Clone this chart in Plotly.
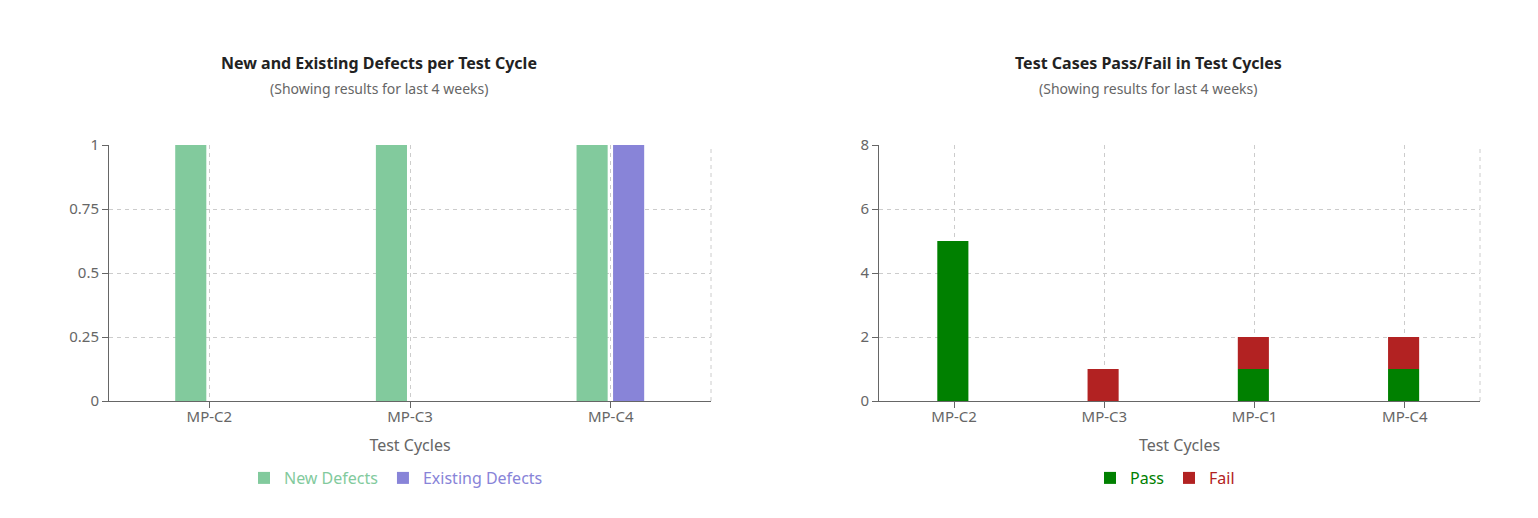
import plotly.graph_objects as go

# Data
defect_cycles = ["MP-C2", "MP-C3", "MP-C4"]
new_defects = [1, 1, 1]
existing_defects = [0, 0, 1]
defect_ticks = [0, 0.25, 0.5, 0.75, 1]
defect_tick_labels = ["0", "0.25", "0.5", "0.75", "1"]

test_cycles = ["MP-C2", "MP-C3", "MP-C1", "MP-C4"]
pass_counts = [5, 0, 1, 1]
fail_counts = [0, 1, 1, 1]
test_ticks = [0, 2, 4, 6, 8]

W, H = 1538, 518
FONT = "Noto Sans"
AX = "#666666"
GRID = "#cccccc"

def px(x):
    return x / W

def py(y):
    return (H - y) / H

fig = go.Figure()

fig.add_trace(go.Bar(x=defect_cycles, y=new_defects, name="<span style='color:#82ca9d'>New Defects</span>",
                     marker=dict(color="#82ca9d", line=dict(width=0)), width=0.155, offset=-0.17,
                     xaxis="x", yaxis="y", legend="legend"))
fig.add_trace(go.Bar(x=defect_cycles, y=existing_defects, name="<span style='color:#8884d8'>Existing Defects</span>",
                     marker=dict(color="#8884d8", line=dict(width=0)), width=0.155, offset=0.012,
                     xaxis="x", yaxis="y", legend="legend"))

fig.add_trace(go.Bar(x=test_cycles, y=pass_counts, name="<span style='color:#008000'>Pass</span>",
                     marker=dict(color="#008000", line=dict(width=0)), width=0.207, offset=-0.112,
                     xaxis="x2", yaxis="y2", legend="legend2"))
fig.add_trace(go.Bar(x=test_cycles, y=fail_counts, base=pass_counts, name="<span style='color:#b22222'>Fail</span>",
                     marker=dict(color="#b22222", line=dict(width=0)), width=0.207, offset=-0.112,
                     xaxis="x2", yaxis="y2", legend="legend2"))

ydom = [py(401), py(145)]
axis_common = dict(showline=True, linecolor=AX, linewidth=1, ticks="outside", ticklen=6, tickcolor=AX,
                   tickfont=dict(size=15, color=AX, family=FONT), showgrid=True, gridcolor=GRID,
                   griddash="4px,4px", gridwidth=1, zeroline=False, automargin=False)

fig.update_layout(
    width=W, height=H, margin=dict(l=0, r=0, t=0, b=0, autoexpand=False),
    paper_bgcolor="white", plot_bgcolor="white",
    barmode="overlay",
    font=dict(family=FONT, color=AX),
    xaxis=dict(domain=[px(109), px(711)], type="category", range=[-0.5, 2.5], ticklabelstandoff=-4,
               title=dict(text="Test Cycles", font=dict(size=16, color=AX), standoff=14), anchor="y",
               **axis_common),
    yaxis=dict(domain=ydom, range=[0, 1], tickvals=defect_ticks, ticktext=defect_tick_labels, anchor="x",
               **axis_common),
    xaxis2=dict(domain=[px(879), px(1480)], type="category", range=[-0.5, 3.5], ticklabelstandoff=-4,
                title=dict(text="Test Cycles", font=dict(size=16, color=AX), standoff=14), anchor="y2",
                **axis_common),
    yaxis2=dict(domain=ydom, range=[0, 8], tickvals=test_ticks, anchor="x2", **axis_common),
    legend=dict(orientation="h", x=px(396), y=py(478), xanchor="center", yanchor="middle",
                font=dict(size=16, family=FONT), itemclick=False, bgcolor="rgba(0,0,0,0)"),
    legend2=dict(orientation="h", x=px(1165), y=py(478), xanchor="center", yanchor="middle",
                 font=dict(size=16, family=FONT), itemclick=False, bgcolor="rgba(0,0,0,0)"),
    showlegend=True,
)

# dashed right border of each grid
for xr, yr in (("x", "y"), ("x2", "y2")):
    fig.add_shape(type="line", xref=f"{xr} domain", yref=f"{yr} domain", x0=1, x1=1, y0=0, y1=1,
                  line=dict(color=GRID, width=1, dash="4px,4px"), layer="below")

titles = [
    (379, "New and Existing Defects per Test Cycle"),
    (1148, "Test Cases Pass/Fail in Test Cycles"),
]
for cx, t in titles:
    fig.add_annotation(text=f"<b>{t}</b>", x=px(cx), y=py(63), xref="paper", yref="paper",
                       showarrow=False, xanchor="center", yanchor="middle",
                       font=dict(size=16, color="#222222", family=FONT))
    fig.add_annotation(text="(Showing results for last 4 weeks)", x=px(cx), y=py(88), xref="paper", yref="paper",
                       showarrow=False, xanchor="center", yanchor="middle",
                       font=dict(size=14, color="#666666", family=FONT))

fig.write_html("out.html")
